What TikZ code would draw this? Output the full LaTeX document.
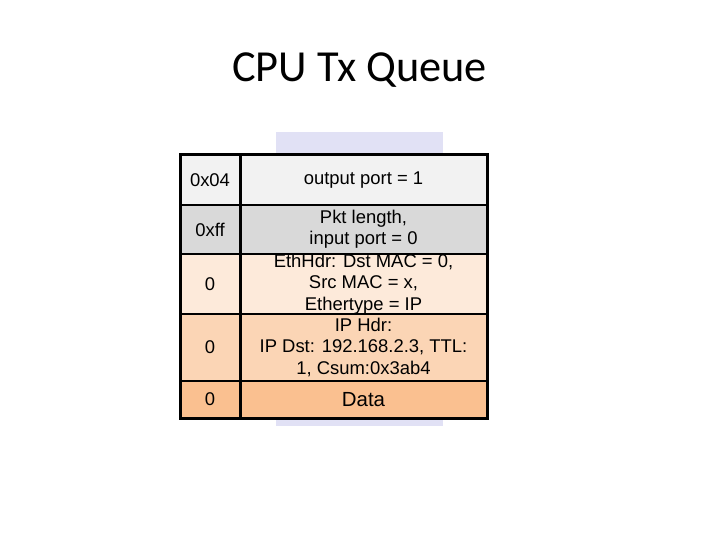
\documentclass[tikz,border=0pt]{standalone}
\usepackage{fontspec}
\setmainfont{Liberation Sans}
\newfontfamily\titlefont{Carlito}
\definecolor{lav}{HTML}{E1E1F5}
\definecolor{rowa}{HTML}{F2F2F2}
\definecolor{rowb}{HTML}{D9D9D9}
\definecolor{rowc}{HTML}{FDEADA}
\definecolor{rowd}{HTML}{FBD5B5}
\definecolor{rowe}{HTML}{FAC090}
\begin{document}
\begin{tikzpicture}[x=1bp,y=-1bp,
  cell/.style={rectangle, inner sep=0pt, outer sep=0pt, align=center, text=black,
    font=\fontsize{18.5}{21.5}\selectfont},
  lcell/.style={cell, minimum width=60bp},
  rcell/.style={cell, minimum width=247bp},
  inner line/.style={line width=2bp, black},
  outer line/.style={line width=3bp, black},
]
\useasboundingbox (0,0) rectangle (720,540);
\fill[white] (0,0) rectangle (720,540);
\node[fill=lav, minimum width=167bp, minimum height=294bp, inner sep=0pt] (bg) at (359.5,279) {};
\node[font=\titlefont\fontsize{44.5}{50}\selectfont, anchor=base] (title) at (359.5,82) {CPU Tx Queue};
% row 1
\node[lcell, fill=rowa, minimum height=50bp] (l1) at (210,180) {0x04};
\node[rcell, fill=rowa, minimum height=50bp] (r1) at (363.5,180) {output port = 1};
% row 2
\node[lcell, fill=rowb, minimum height=49bp] (l2) at (210,229.5) {0xff};
\node[rcell, fill=rowb, minimum height=49bp] (r2) at (363.5,229.5) {};
% row 3
\node[lcell, fill=rowc, minimum height=60bp] (l3) at (210,284) {0};
\node[rcell, fill=rowc, minimum height=60bp] (r3) at (363.5,284) {};
% row 4
\node[lcell, fill=rowd, minimum height=67bp] (l4) at (210,347.5) {0};
\node[rcell, fill=rowd, minimum height=67bp] (r4) at (363.5,347.5) {};
% row 5
\node[lcell, fill=rowe, minimum height=37bp] (l5) at (210,399.5) {0};
\node[rcell, fill=rowe, minimum height=37bp] (r5) at (363.5,399.5) {\fontsize{20.5}{22}\selectfont Data};
% multi-line texts (drawn after fills so overflow stays visible)
\node[cell] (t2) at (r2.center) {Pkt length,\\input port = 0};
\node[cell] (t3) at (r3.center) {EthHdr: Dst MAC = 0,\\Src MAC = x,\\Ethertype = IP};
\node[cell] (t4) at (r4.center) {IP Hdr:\\IP Dst: 192.168.2.3, TTL:\\1, Csum:0x3ab4};
% lines
\draw[inner line] (l1.south west) -- (r1.south east);
\draw[inner line] (l2.south west) -- (r2.south east);
\draw[inner line] (l3.south west) -- (r3.south east);
\draw[inner line] (l4.south west) -- (r4.south east);
\draw[outer line] (l1.north east) -- (l5.south east);
\draw[outer line] (l1.north west) rectangle (r5.south east);
\end{tikzpicture}
\end{document}
